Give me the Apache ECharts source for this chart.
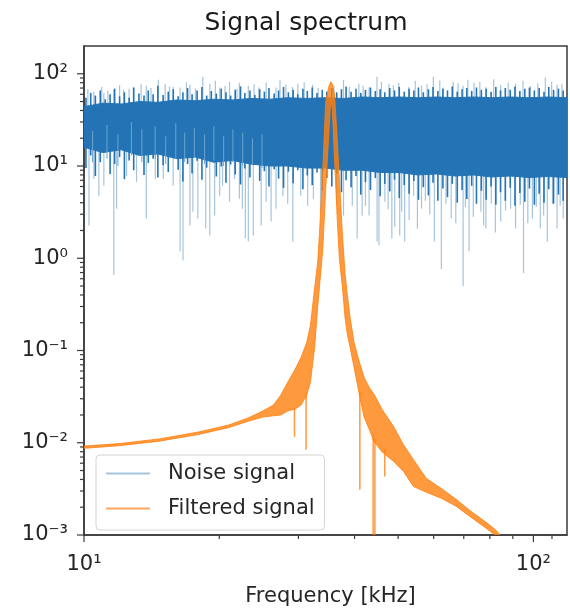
<!DOCTYPE html>
<html>
<head>
<meta charset="utf-8">
<title>Signal spectrum</title>
<script src="https://cdn.jsdelivr.net/npm/echarts@6/dist/echarts.min.js"></script>
<style>
  html, body { margin: 0; padding: 0; background: #fff; }
  #chart { width: 570px; height: 612px; }
</style>
</head>
<body>
<div id="chart"></div>
<script>
// Noise signal: solid core of the band (upper / lower edge)
const coreFreq = [10.0, 11.0, 12.1, 13.3, 14.6, 16.1, 17.7, 19.4, 21.4, 23.5, 25.9, 28.4, 31.3, 34.4, 37.8, 41.6, 45.7, 50.3, 55.3, 60.8, 66.9, 73.5, 80.9, 88.9, 97.8, 107.6, 118.8]
const coreHigh = [44, 48, 47, 50, 49, 52, 51, 53, 52, 54, 53, 55, 54, 55, 54, 56, 55, 56, 55, 56, 55, 56, 55, 56, 55, 56, 55]
const coreLow = [16, 14, 15, 13, 13.5, 12, 12.5, 11, 11.5, 10.5, 10, 10, 9.5, 9.5, 9, 9, 8.5, 8.5, 8, 8.2, 7.8, 8, 7.6, 7.8, 7.5, 7.7, 7.5]

// Noise signal: ragged dark edge, one stroke per frequency (low .. high)
const edgeFreq = [10.1, 10.35, 10.6, 10.87, 11.15, 11.43, 11.7, 12.0, 12.3, 12.6, 12.9, 13.25, 13.6, 13.9, 14.25, 14.6, 15.0, 15.4, 15.8, 16.2, 16.6, 17.0, 17.4, 17.85, 18.3, 18.75, 19.2, 19.7, 20.2, 20.7, 21.2, 21.7, 22.3, 22.8, 23.4, 24.0, 24.6, 25.2, 25.8, 26.5, 27.1, 27.8, 28.5, 29.2, 29.9, 30.7, 31.4, 32.2, 33.0, 33.9, 34.7, 35.6, 36.5, 37.4, 38.3, 39.3, 40.3, 41.3, 42.3, 43.4, 44.5, 45.6, 46.7, 47.9, 49.1, 50.3, 51.6, 52.9, 54.2, 55.5, 56.9, 58.4, 59.8, 61.3, 62.9, 64.4, 66.0, 67.7, 69.4, 71.1, 72.9, 74.7, 76.6, 78.5, 80.5, 82.5, 84.5, 86.6, 88.8, 91.0, 93.3, 95.7, 98.0, 100.5, 103.0, 105.6, 108.2, 110.9, 113.7, 116.5]
const edgeHigh = [55, 62, 58, 66, 53, 60, 69, 57, 63, 55, 71, 61, 58, 66, 60, 74, 59, 64, 68, 57, 63, 70, 60, 66, 72, 58, 65, 61, 69, 63, 58, 67, 73, 62, 66, 59, 68, 64, 70, 61, 66, 72, 63, 67, 60, 69, 65, 71, 62, 67, 64, 70, 63, 68, 73, 64, 69, 62, 67, 71, 65, 68, 63, 70, 66, 72, 64, 69, 66, 71, 63, 68, 72, 65, 69, 66, 73, 64, 68, 70, 65, 71, 67, 69, 64, 72, 66, 70, 67, 73, 65, 69, 71, 66, 70, 64, 72, 67, 69, 66]
const edgeLow = [9.5, 13, 7.8, 11, 14, 8.2, 10.5, 12.5, 7.2, 11.5, 9.0, 13.5, 8.0, 10.8, 12.0, 7.5, 10.2, 8.6, 12.2, 9.1, 6.8, 10.5, 8.3, 11.4, 7.1, 9.6, 12.0, 7.7, 9.9, 6.6, 10.4, 8.1, 6.3, 9.4, 7.5, 10.6, 6.9, 8.8, 6.0, 9.2, 7.3, 5.8, 8.7, 6.5, 9.0, 5.6, 7.9, 6.2, 8.5, 5.4, 7.4, 6.0, 8.2, 5.2, 7.0, 5.9, 7.8, 4.9, 6.7, 5.5, 7.4, 4.7, 6.4, 5.3, 7.1, 4.5, 6.2, 5.0, 6.9, 4.3, 5.9, 4.8, 6.6, 4.2, 5.7, 4.6, 6.4, 4.0, 5.5, 4.4, 6.1, 3.9, 5.4, 4.3, 6.0, 3.8, 5.2, 4.2, 5.8, 3.7, 5.1, 4.1, 5.7, 3.8, 5.0, 4.0, 5.6, 3.9, 4.9, 4.2]

// paler streaks inside the band on the sparse low-frequency side [freq, from, to]
const noiseStreaks = [[10.45, 11, 24], [11.25, 12, 28], [11.9, 10, 22], [12.75, 13, 30], [13.45, 11, 25], [14.4, 12, 27], [15.2, 10.5, 21], [16.0, 12, 29], [16.75, 11, 23], [17.6, 12.5, 26], [18.55, 10.5, 22], [19.45, 11.5, 27], [20.45, 10, 21], [21.45, 11, 25], [22.55, 10, 23], [23.7, 10.5, 20], [24.9, 9.5, 22]]

// single noise samples that stick out of the band [freq, value]
const noiseDips = [[10.26, 2.26], [10.52, 7.25], [10.79, 4.76], [11.07, 6.1], [11.65, 0.66], [11.82, 3.45], [12.44, 7.8], [13.09, 6.73], [13.76, 2.69], [14.41, 7.25], [15.01, 7.25], [15.79, 6.1], [16.36, 1.19], [16.61, 0.95], [17.21, 2.26], [17.47, 3.2], [17.92, 2.69], [18.66, 2.1], [19.05, 1.77], [19.53, 2.9], [20.04, 4.76], [20.34, 6.1], [21.08, 4.1], [21.62, 7.2], [22.17, 4.42], [22.51, 3.45], [22.86, 1.64], [23.21, 1.52], [23.81, 1.77], [24.79, 2.26], [25.43, 4.1], [26.08, 2.5], [26.75, 3.45], [27.71, 4.76], [28.4, 3.9], [29.15, 1.52], [30.37, 4.76], [31.46, 3.71], [32.4, 4.4], [33.6, 3.2], [36.5, 3.8], [37.8, 2.9], [39.54, 3.71], [40.54, 1.64], [41.58, 2.9], [42.3, 3.7], [43.09, 2.9], [44.9, 1.52], [45.33, 1.38], [46.73, 4.1], [47.5, 3.4], [48.42, 1.64], [49.15, 2.2], [50.42, 1.77], [50.93, 3.2], [51.71, 1.52], [52.9, 2.6], [54.14, 4.76], [55.2, 2.1], [56.38, 3.45], [57.5, 4.2], [58.8, 3.0], [60.21, 1.52], [62.4, 0.76], [63.9, 3.9], [65.64, 2.69], [67.2, 2.4], [69.76, 0.5], [70.6, 3.6], [71.93, 1.19], [73.5, 2.8], [76.43, 3.2], [77.5, 2.26], [78.41, 2.1], [80.6, 3.9], [82.3, 1.9], [84.58, 2.5], [86.7, 3.3], [88.98, 3.45], [91.28, 2.1], [93.5, 3.8], [95.07, 0.69], [97.2, 2.4], [99.5, 2.69], [101.5, 3.6], [103.6, 2.1], [105.4, 2.9], [107.4, 1.52], [110.3, 3.9], [112.9, 2.1], [114.7, 3.71], [116.5, 2.7]]
const noisePeaks = [[10.2, 68], [10.52, 64], [10.95, 72], [11.07, 62], [11.3, 66], [11.65, 67], [12.0, 75], [12.25, 67], [12.6, 69], [12.89, 71], [13.4, 77], [13.76, 74], [14.1, 70], [14.63, 86], [15.16, 78], [15.5, 73], [15.79, 72], [16.36, 71], [16.9, 81], [17.21, 76], [17.7, 69], [18.38, 93], [19.05, 78], [19.6, 84], [20.04, 71], [20.6, 74], [21.08, 82], [21.9, 69], [22.17, 80], [23.21, 74], [23.9, 77], [24.5, 71], [25.43, 80], [26.75, 71], [27.3, 85], [28.14, 76], [29.1, 72], [29.91, 78], [30.9, 81], [32.27, 76], [33.2, 70], [36.0, 75], [37.8, 86], [38.93, 72], [40.9, 78], [41.8, 74], [43.09, 71], [44.87, 93], [45.9, 82], [47.7, 78], [48.8, 75], [50.16, 80], [52.8, 72], [54.6, 84], [56.38, 74], [58.0, 77], [59.9, 93], [61.9, 85], [63.0, 71], [66.3, 82], [68.0, 79], [69.76, 74], [71.5, 86], [73.8, 80], [76.0, 81], [78.41, 72], [81.6, 87], [84.58, 76], [87.9, 80], [91.28, 78], [94.8, 84], [98.5, 74], [102.3, 79], [106.3, 91], [109.8, 82], [112.9, 76], [115.7, 78]]

// Filtered signal: resonance around 35 kHz
const filtFreq = [10.0, 12.0, 14.7, 18.0, 21.0, 23.2, 25.0, 26.4, 27.4, 28.4, 29.5, 30.4, 31.3, 31.9, 32.6, 33.1, 33.4, 34.0, 34.5, 35.0, 35.4, 35.7, 36.1, 36.6, 37.0, 37.6, 38.1, 38.5, 39.1, 39.9, 40.9, 42.0, 43.1, 44.2, 46.0, 48.9, 51.4, 54.1, 57.8, 62.4, 67.3, 72.6, 78.4, 82.5, 84.6]
const filtHigh = [0.0092, 0.0098, 0.0110, 0.0131, 0.0156, 0.0186, 0.0221, 0.0256, 0.0328, 0.0453, 0.0625, 0.0841, 0.122, 0.186, 0.476, 0.884, 1.77, 9.29, 48.8, 70.7, 82.0, 78.0, 59.4, 19.5, 7.25, 1.77, 0.690, 0.421, 0.226, 0.122, 0.0780, 0.0513, 0.0400, 0.0336, 0.0232, 0.0149, 0.0095, 0.00656, 0.0041, 0.0032, 0.00244, 0.00181, 0.00138, 0.00113, 0.00098]
const filtLow = [0.0087, 0.0093, 0.0104, 0.0123, 0.0146, 0.0171, 0.0190, 0.0196, 0.0200, 0.0221, 0.0232, 0.0256, 0.0328, 0.0453, 0.108, 0.290, 0.476, 1.28, 5.66, 19.5, 52.5, 41.0, 11.9, 2.69, 1.0, 0.476, 0.226, 0.156, 0.108, 0.0656, 0.0353, 0.0190, 0.0141, 0.0103, 0.0080, 0.00625, 0.00488, 0.00336, 0.0029, 0.0025, 0.00205, 0.00156, 0.00119, 0.00098, 0.00086]
// [freq, from, to]
const filtDips = [[29.4, 0.024, 0.0116], [31.2, 0.035, 0.0084], [41.1, 0.035, 0.0031], [44.0, 0.012, 0.0005], [44.4, 0.011, 0.0005], [46.7, 0.0085, 0.0043]]

// ticks
const xMajorTicks = [10, 100]
const xMinorTicks = [20, 30, 40, 50, 60, 70, 80, 90, 110]
const yMajorTicks = [0.001, 0.01, 0.1, 1, 10, 100]
const yMinorTicks = [0.002, 0.003, 0.004, 0.005, 0.006, 0.007, 0.008, 0.009,
  0.02, 0.03, 0.04, 0.05, 0.06, 0.07, 0.08, 0.09,
  0.2, 0.3, 0.4, 0.5, 0.6, 0.7, 0.8, 0.9,
  2, 3, 4, 5, 6, 7, 8, 9,
  20, 30, 40, 50, 60, 70, 80, 90]

const FONT = 'DejaVu Sans'
const BLUE = '#2474b5'
const MID_BLUE = '#6aa3cf'
const LIGHT_BLUE = '#a6c5dd'
const ORANGE = 'rgba(255, 127, 14, 0.8)'
const AXIS = '#3a3a3a'
const TEXT = '#262626'

const sup = { '-': '⁻', '0': '⁰', '1': '¹', '2': '²', '3': '³' }
const powLabel = (v) => {
  const e = Math.log10(v)
  const r = Math.round(e)
  if (Math.abs(e - r) > 1e-6) return ''
  return '10' + String(r).split('').map(c => sup[c]).join('')
}

const bandRender = (freqs, highs, lows, color) => (params, api) => {
  const pts = []
  freqs.forEach((f, i) => pts.push(api.coord([f, highs[i]])))
  for (let i = freqs.length - 1; i >= 0; i--) pts.push(api.coord([freqs[i], lows[i]]))
  return { type: 'polygon', shape: { points: pts }, style: { fill: color, stroke: color, lineWidth: 1 } }
}

// vertical stroke between value(1) and value(2) at frequency value(0)
const strokeRender = (color, width) => (params, api) => {
  const f = api.value(0)
  const p0 = api.coord([f, api.value(1)])
  const p1 = api.coord([f, api.value(2)])
  return { type: 'line', shape: { x1: p0[0], y1: p0[1], x2: p1[0], y2: p1[1] }, style: { stroke: color, lineWidth: width } }
}

const xTickRender = (len) => (params, api) => {
  const p = api.coord([api.value(0), 1])
  const y0 = params.coordSys.y + params.coordSys.height
  return { type: 'line', shape: { x1: p[0], y1: y0, x2: p[0], y2: y0 + len }, style: { stroke: AXIS, lineWidth: 1.2 } }
}

const yTickRender = (len) => (params, api) => {
  const p = api.coord([10, api.value(1)])
  const x0 = params.coordSys.x
  return { type: 'line', shape: { x1: x0, y1: p[1], x2: x0 - len, y2: p[1] }, style: { stroke: AXIS, lineWidth: 1.2 } }
}

const fromCore = (list) => list.map(([f, v]) => [f, 25, v])

const chart = echarts.init(document.getElementById('chart'))

chart.setOption({
  animation: false,
  backgroundColor: '#fff',
  graphic: [{
    type: 'text',
    x: 306,
    y: 23,
    style: { text: 'Signal spectrum', font: '25px "DejaVu Sans"', fill: '#1a1a1a', align: 'center', verticalAlign: 'middle' }
  }],
  grid: {
    left: 84, right: -2, top: 46, bottom: 73,
    show: true, borderColor: AXIS, borderWidth: 1.5, backgroundColor: 'transparent'
  },
  legend: {
    data: [
      { name: 'Noise signal', icon: 'rect' },
      { name: 'Filtered signal', icon: 'rect' }
    ],
    orient: 'vertical',
    left: 96,
    top: 455,
    padding: [8, 10, 11, 10],
    itemWidth: 44,
    itemHeight: 2,
    itemGap: 14,
    backgroundColor: 'rgba(255,255,255,0.85)',
    borderColor: '#d4d4d4',
    borderWidth: 1,
    borderRadius: 4,
    textStyle: { fontFamily: FONT, fontSize: 21, color: TEXT, lineHeight: 20, padding: [0, 0, 0, 13] }
  },
  xAxis: {
    type: 'log',
    logBase: 10,
    min: 10,
    max: 118.8,
    name: 'Frequency [kHz]',
    nameLocation: 'middle',
    nameGap: 51,
    nameTextStyle: { fontFamily: FONT, fontSize: 21, color: TEXT, padding: [0, 0, 0, 10] },
    axisLine: { show: true, lineStyle: { color: AXIS, width: 1.5 } },
    axisTick: { show: false },
    splitLine: { show: false },
    axisLabel: { margin: 19, fontFamily: FONT, fontSize: 21, color: TEXT, formatter: powLabel }
  },
  yAxis: {
    type: 'log',
    logBase: 10,
    min: 0.001,
    max: 200,
    axisLine: { show: true, lineStyle: { color: AXIS, width: 1.5 } },
    axisTick: { show: false },
    splitLine: { show: false },
    axisLabel: { margin: 16, fontFamily: FONT, fontSize: 21, color: TEXT, formatter: powLabel }
  },
  series: [
    // legend entries only
    { name: 'Noise signal', type: 'line', data: [], symbol: 'none', color: LIGHT_BLUE },
    { name: 'Filtered signal', type: 'line', data: [], symbol: 'none', color: '#ffa45c' },
    { type: 'custom', silent: true, clip: true, z: 2, renderItem: strokeRender(LIGHT_BLUE, 1.2), data: fromCore(noiseDips) },
    { type: 'custom', silent: true, clip: true, z: 2, renderItem: strokeRender(LIGHT_BLUE, 1.2), data: fromCore(noisePeaks) },
    { type: 'custom', silent: true, clip: true, z: 3, renderItem: bandRender(coreFreq, coreHigh, coreLow, BLUE), data: [[coreFreq[0], coreHigh[0]]] },
    { type: 'custom', silent: true, clip: true, z: 3, renderItem: strokeRender(BLUE, 1.6), data: edgeFreq.map((f, i) => [f, edgeLow[i], edgeHigh[i]]) },
    { type: 'custom', silent: true, clip: true, z: 3, renderItem: strokeRender(MID_BLUE, 1), data: noiseStreaks },
    { type: 'custom', silent: true, clip: true, z: 4, renderItem: bandRender(filtFreq, filtHigh, filtLow, ORANGE), data: [[filtFreq[0], filtHigh[0]]] },
    { type: 'custom', silent: true, clip: true, z: 4, renderItem: strokeRender(ORANGE, 1.5), data: filtDips },
    { type: 'custom', silent: true, clip: false, z: 5, renderItem: xTickRender(7), data: xMajorTicks.map(f => [f, 1]) },
    { type: 'custom', silent: true, clip: false, z: 5, renderItem: xTickRender(4), data: xMinorTicks.map(f => [f, 1]) },
    { type: 'custom', silent: true, clip: false, z: 5, renderItem: yTickRender(7), data: yMajorTicks.map(v => [10, v]) },
    { type: 'custom', silent: true, clip: false, z: 5, renderItem: yTickRender(4), data: yMinorTicks.map(v => [10, v]) }
  ]
})
</script>
</body>
</html>
